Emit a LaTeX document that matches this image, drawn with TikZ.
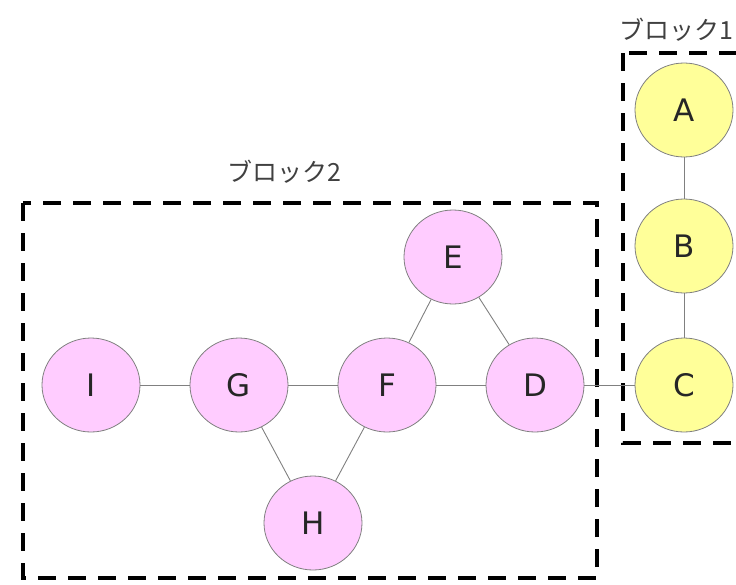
\documentclass[tikz,border=0pt]{standalone}
\usepackage{fontspec}
\setmainfont{DejaVu Sans}
\newfontfamily\jpfont{Noto Sans CJK JP}
\usetikzlibrary{shapes.geometric}
\definecolor{pinkfill}{HTML}{FFCCFF}
\definecolor{yelfill}{HTML}{FFFF99}
\definecolor{edgegray}{HTML}{808080}
\tikzset{
  vtx/.style={ellipse, draw=edgegray, line width=0.8pt, minimum width=98pt, minimum height=94pt, inner sep=0pt, font=\fontsize{31}{31}\selectfont, text=black!85},
  pinkv/.style={vtx, fill=pinkfill},
  yelv/.style={vtx, fill=yelfill},
  conn/.style={draw=edgegray, line width=0.9pt},
  blockbox/.style={draw=black, line width=4pt, dash pattern=on 18pt off 12pt},
  blocklbl/.style={font=\jpfont\fontsize{25}{25}\selectfont, text=black!75, inner sep=0pt}
}
\begin{document}
\begin{tikzpicture}[x=1pt,y=-1pt]
\useasboundingbox (0,0) rectangle (736,584);
\clip (0,0) rectangle (736,584);
% blocks
\draw[blockbox] (623,53) rectangle (770,443);
\draw[blockbox] (23,203) rectangle (597,578);
\node[blocklbl, anchor=west] (lbl1) at (619,30) {ブロック1};
\node[blocklbl, anchor=west] (lbl2) at (227,172) {ブロック2};
% nodes
\node[yelv] (A) at (684,110) {A};
\node[yelv] (B) at (684,246) {B};
\node[yelv] (C) at (684,385) {C};
\node[pinkv] (D) at (535,385) {D};
\node[pinkv] (E) at (453,257) {E};
\node[pinkv] (F) at (387,385) {F};
\node[pinkv] (G) at (239,385) {G};
\node[pinkv] (I) at (91,385) {I};
\node[pinkv] (H) at (313,523) {H};
% edges
\draw[conn] (A) -- (B);
\draw[conn] (B) -- (C);
\draw[conn] (D) -- (C);
\draw[conn] (F) -- (D);
\draw[conn] (E) -- (D);
\draw[conn] (F) -- (E);
\draw[conn] (G) -- (F);
\draw[conn] (I) -- (G);
\draw[conn] (G) -- (H);
\draw[conn] (F) -- (H);
\end{tikzpicture}
\end{document}
